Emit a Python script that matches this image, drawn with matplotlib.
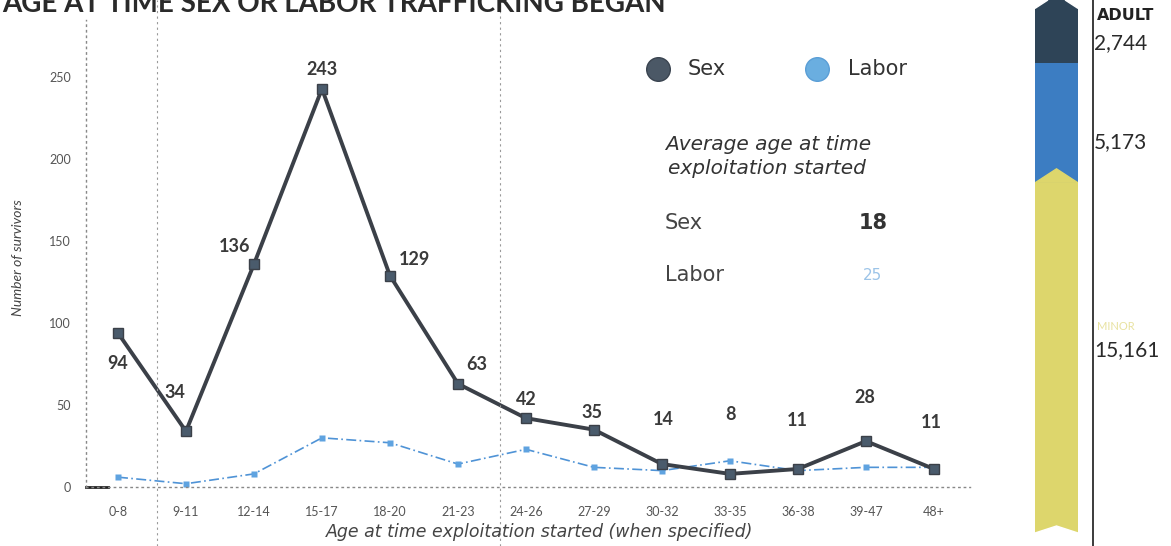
import matplotlib
matplotlib.use("Agg")
import matplotlib.pyplot as plt
from matplotlib.lines import Line2D
from matplotlib.patches import Polygon

plt.rcParams["font.family"] = ["Lato", "DejaVu Sans"]
WIDE = ["DejaVu Sans"]

# data
age_groups = ["0-8", "9-11", "12-14", "15-17", "18-20", "21-23", "24-26",
              "27-29", "30-32", "33-35", "36-38", "39-47", "48+"]
sex_counts = [94, 34, 136, 243, 129, 63, 42, 35, 14, 8, 11, 28, 11]
labor_counts = [6, 2, 8, 30, 27, 14, 23, 12, 10, 16, 10, 12, 12]
y_ticks = [0, 50, 100, 150, 200, 250]

avg_sex = 18
avg_labor = 25

bar_values = [2744, 5173, 15161]
bar_colors = ["#2e4457", "#3c7dc2", "#ddd66c"]

# label offsets in pixels (dx, dy up)
label_offsets = [(0, -31), (-11, 39), (-19, 18), (0, 19), (24, 16), (19, 19),
                 (0, 19), (-2, 17), (1, 45), (1, 59), (-1, 48), (-1, 44), (-3, 46)]

W, H = 1171, 546


def fx(x):
    return x / W


def fy(y):
    return 1 - y / H


fig = plt.figure(figsize=(W / 100, H / 100), dpi=100)
fig.patch.set_facecolor("white")

ax = fig.add_axes([fx(86), fy(487), 884 / W, 467 / H])
xs = list(range(len(age_groups)))

ax.plot(xs, labor_counts, color="#4f93d6", lw=1.2, ls=(0, (6, 2, 1, 2)),
        marker="s", ms=5, mfc="#5fa3e0", mec="none", zorder=2)
ax.plot(xs, sex_counts, color="#3b4048", lw=2.8, marker="s", ms=7,
        mfc="#4a5b6c", mec="#3b4048", zorder=3)

for i, v in enumerate(sex_counts):
    dx, dy = label_offsets[i]
    ax.annotate(str(v), (i, v), xytext=(dx * 0.72, dy * 0.72),
                textcoords="offset points", ha="center", va="center",
                fontsize=13, fontweight="bold", color="#3a3a3a")

ax.set_xlim(-0.47, 12.53)
ax.set_ylim(0, 285)
ax.set_xticks(xs, age_groups)
ax.set_yticks(y_ticks)
ax.tick_params(axis="x", length=0, pad=14, labelsize=9, colors="#555555")
ax.tick_params(axis="y", length=0, pad=11, labelsize=9, colors="#555555")
for s in ["top", "right"]:
    ax.spines[s].set_visible(False)
for s in ["left", "bottom"]:
    ax.spines[s].set_linestyle((0, (1, 3)))
    ax.spines[s].set_color("#888888")
    ax.spines[s].set_linewidth(1)
ax.plot([-0.47, -0.15], [0, 0], color="#222222", lw=2, clip_on=False)

fig.text(fx(18), fy(258), "Number of survivors", rotation=90, style="italic",
         fontsize=10, color="#444444", ha="center", va="center")
fig.text(fx(540), fy(532), "Age at time exploitation started (when specified)",
         style="italic", fontsize=12.5, color="#444444", ha="center", va="center",
         family=WIDE)

# scan fold lines
for xp in [157, 500]:
    fig.add_artist(Line2D([fx(xp), fx(xp)], [0, 1], color="#9a9a9a", lw=0.8,
                          ls=(0, (2, 3))))

# title, cut off at the top of the scan
fig.text(0.002, fy(12), "AGE AT TIME SEX OR LABOR TRAFFICKING BEGAN",
         fontsize=20, fontweight="bold", color="#2a2a2a", va="baseline")

# legend
fig.add_artist(Line2D([fx(658)], [fy(69)], marker="o", ms=17, color="#4b5866",
                      mec="#3a4450"))
fig.text(fx(688), fy(69), "Sex", fontsize=15, color="#333333", va="center",
         family=WIDE)
fig.add_artist(Line2D([fx(817)], [fy(69)], marker="o", ms=17, color="#6aaee0",
                      mec="#5a9ed6"))
fig.text(fx(848), fy(69), "Labor", fontsize=15, color="#333333", va="center",
         family=WIDE)

fig.text(fx(665), fy(145), "Average age at time", style="italic", fontsize=14.5,
         color="#333333", va="center", family=WIDE)
fig.text(fx(668), fy(169), "exploitation started", style="italic", fontsize=14.5,
         color="#333333", va="center", family=WIDE)
fig.text(fx(665), fy(223), "Sex", fontsize=15, color="#444444", va="center",
         family=WIDE)
fig.text(fx(873), fy(223), str(avg_sex), fontsize=15, fontweight="bold",
         color="#333333", va="center", ha="center", family=WIDE)
fig.text(fx(665), fy(275), "Labor", fontsize=15, color="#444444", va="center",
         family=WIDE)
fig.text(fx(873), fy(275), str(avg_labor), fontsize=11, color="#9cc4e8",
         va="center", ha="center", family=WIDE)

# stacked adult bar on the right
total = sum(bar_values)
bax = fig.add_axes([fx(1035), fy(533), 43 / W, 533 / H])
bottoms = [sum(bar_values[:i]) for i in range(len(bar_values))]
bax.bar(0, bar_values, bottom=bottoms, width=1.0, color=bar_colors)
d = total * 14 / 533
b2 = bottoms[2]
bax.add_patch(Polygon([(-0.5, b2), (0, b2 - d), (0.5, b2)], color=bar_colors[2]))
bax.add_patch(Polygon([(-0.5, total), (0, total - d * 0.5), (0.5, total)],
                      color="white"))
bax.add_patch(Polygon([(-0.5, 0), (-0.5, d * 0.6), (-0.2, 0)], color="white"))
bax.add_patch(Polygon([(0.5, 0), (0.5, d * 0.6), (0.2, 0)], color="white"))
bax.set_xlim(-0.5, 0.5)
bax.set_ylim(total, 0)
bax.axis("off")

fig.add_artist(Line2D([fx(1093), fx(1093)], [0, 1], color="#1a1a1a", lw=1.2))
fig.text(fx(1097), fy(16), "ADULT", fontsize=11.5, fontweight="bold",
         color="#222222", va="center", family=WIDE)
for val, yp in zip(bar_values, [43, 142, 350]):
    fig.text(fx(1094), fy(yp), f"{val:,}", fontsize=15, color="#2a2a2a",
             va="center")
fig.text(fx(1097), fy(326), "MINOR", fontsize=8, color="#e8e2a0", va="center")

fig.savefig("out.png", dpi=100)
